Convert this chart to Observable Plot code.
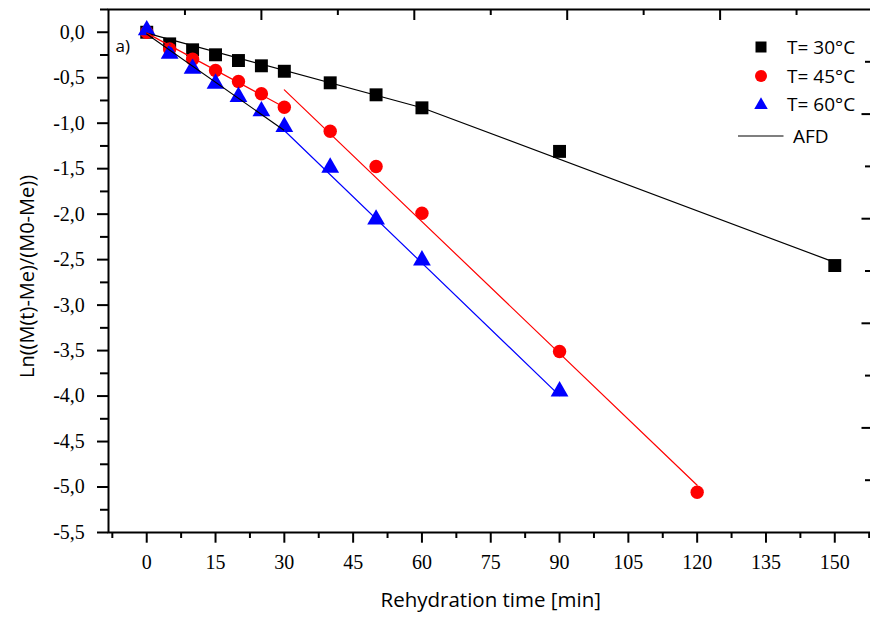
<!DOCTYPE html>
<html><head><meta charset="utf-8">
<script src="https://cdn.jsdelivr.net/npm/d3@7"></script>
<script src="https://cdn.jsdelivr.net/npm/@observablehq/plot@0.6"></script>
<style>
html,body{margin:0;padding:0;background:#fff;overflow:hidden;}
#wrap{position:relative;width:870px;height:619px;overflow:hidden;}
#wrap svg{max-width:none;}
#legend{position:absolute;left:0;top:0;pointer-events:none;}
</style></head><body><div id="wrap"></div>
<script>
// ---- data ----
const times30 = [0, 5, 10, 15, 20, 25, 30, 40, 50, 60, 90, 150];
const ln30    = [0, -0.128, -0.193, -0.248, -0.311, -0.369, -0.429, -0.556, -0.688, -0.831, -1.31, -2.565];
const times45 = [0, 5, 10, 15, 20, 25, 30, 40, 50, 60, 90, 120];
const ln45    = [0, -0.183, -0.297, -0.421, -0.542, -0.677, -0.825, -1.088, -1.476, -1.99, -3.51, -5.057];
const times60 = [0, 5, 10, 15, 20, 25, 30, 40, 50, 60, 90];
const ln60    = [0, -0.256, -0.421, -0.586, -0.732, -0.89, -1.062, -1.51, -2.08, -2.53, -3.97];

// AFD fit segments
const fit30x  = [0, 60, 150];   const fit30y  = [-0.01, -0.83, -2.53];
const fit45ax = [0, 30];        const fit45ay = [-0.01, -0.825];
const fit45bx = [30, 120];      const fit45by = [-0.633, -4.98];
const fit60ax = [0, 30];        const fit60ay = [-0.02, -1.08];
const fit60bx = [30, 90];       const fit60by = [-1.08, -3.995];

// axes / ticks
const xDomain = [-8.3333, 158.3333];
const yDomain = [-5.5, 0.25];
const xTicks = [0, 15, 30, 45, 60, 75, 90, 105, 120, 135, 150];
const xMinor = [-7.5, 7.5, 22.5, 37.5, 52.5, 67.5, 82.5, 97.5, 112.5, 127.5, 142.5, 157.5];
const yTicks = [0, -0.5, -1, -1.5, -2, -2.5, -3, -3.5, -4, -4.5, -5, -5.5];
const yMinor = [0.25, -0.25, -0.75, -1.25, -1.75, -2.25, -2.75, -3.25, -3.75, -4.25, -4.75, -5.25];
const topMajor = [25, 58.3333, 91.6667, 125];
const topMinor = [8.3333, 41.6667, 75, 108.3333, 141.6667];
const rightMajor = [-0.9, -2.05, -3.2, -4.35];
const rightMinor = [-0.325, -1.475, -2.625, -3.775, -4.925];

const legendLabels = ["T= 30°C", "T= 45°C", "T= 60°C", "AFD"];
const xLabel = "Rehydration time [min]";
const yLabel = "Ln((M(t)-Me)/(M0-Me))";
const panelLabel = "a)";

const pts = (xs, ys) => xs.map((x, i) => ({x, y: ys[i]}));
const s30 = pts(times30, ln30), s45 = pts(times45, ln45), s60 = pts(times60, ln60);
const fmtY = d => (Math.abs(d) < 1e-9 ? 0 : d).toFixed(1).replace(".", ",");
const none = () => "";

const W = 873, H = 619, mL = 108, mR = 0.5, mT = 9, mB = 87;
const innerW = W - mL - mR, innerH = H - mT - mB;
const sans = "Open Sans";
const serif = "Times New Roman, Liberation Serif, DejaVu Serif, serif";

const chart = Plot.plot({
  width: W, height: H,
  marginLeft: mL, marginRight: mR, marginTop: mT, marginBottom: mB,
  style: {background: "#fff", color: "#000", overflow: "visible", maxWidth: "none"},
  x: {domain: xDomain, label: null},
  y: {domain: yDomain, label: null},
  marks: [
    Plot.axisX({ticks: xTicks, tickSize: 10.7, tickFormat: none, strokeWidth: 2, label: null}),
    Plot.axisX({ticks: xMinor, tickSize: 6, tickFormat: none, strokeWidth: 2, label: null}),
    Plot.axisY({ticks: yTicks, tickSize: 11, tickFormat: none, strokeWidth: 2, label: null}),
    Plot.axisY({ticks: yMinor, tickSize: 8, tickFormat: none, strokeWidth: 2, label: null}),
    Plot.text(xTicks, {x: d => d, text: d => String(d), frameAnchor: "bottom", dy: 30, textAnchor: "middle", lineAnchor: "middle", fontFamily: serif, fontSize: 20, fill: "#000"}),
    Plot.text(yTicks, {y: d => d, text: fmtY, frameAnchor: "left", dx: -23.7, textAnchor: "end", lineAnchor: "middle", fontFamily: serif, fontSize: 20, fill: "#000"}),
    Plot.tickX(topMajor, {x: d => d, insetBottom: innerH - 11, strokeWidth: 2}),
    Plot.tickX(topMinor, {x: d => d, insetBottom: innerH - 6, strokeWidth: 2}),
    Plot.tickY(rightMajor, {y: d => d, insetLeft: innerW - 11, strokeWidth: 2}),
    Plot.tickY(rightMinor, {y: d => d, insetLeft: innerW - 7.5, strokeWidth: 2}),
    Plot.frame({strokeWidth: 2}),
    Plot.dot(s30, {x: "x", y: "y", symbol: "square", r: 7.3, fill: "#000", stroke: "none"}),
    Plot.dot(s45, {x: "x", y: "y", symbol: "circle", r: 6.7, fill: "#ff0000", stroke: "none"}),
    Plot.dot(s60, {x: "x", y: "y", symbol: "triangle", r: 6.6, fill: "#0000ff", stroke: "none", dy: -2}),
    Plot.line(pts(fit30x, fit30y), {x: "x", y: "y", stroke: "#000", strokeWidth: 1.2}),
    Plot.line(pts(fit45ax, fit45ay), {x: "x", y: "y", stroke: "#ff0000", strokeWidth: 1.2}),
    Plot.line(pts(fit45bx, fit45by), {x: "x", y: "y", stroke: "#ff0000", strokeWidth: 1.2}),
    Plot.line(pts(fit60ax, fit60ay), {x: "x", y: "y", stroke: "#000", strokeWidth: 1.2}),
    Plot.line(pts(fit60bx, fit60by), {x: "x", y: "y", stroke: "#0000ff", strokeWidth: 1.2}),
    Plot.text([panelLabel], {text: d => d, frameAnchor: "top-left", dx: 7, dy: 37, textAnchor: "start", lineAnchor: "middle", fontFamily: sans, fontSize: 17}),
    Plot.text([xLabel], {text: d => d, frameAnchor: "bottom", dy: 68, textAnchor: "middle", lineAnchor: "middle", fontFamily: sans, fontSize: 20.5}),
    Plot.text([yLabel], {text: d => d, frameAnchor: "left", dx: -81, dy: 5.5, rotate: -90, textAnchor: "middle", lineAnchor: "middle", fontFamily: sans, fontSize: 20})
  ]
});

const wrap = document.getElementById("wrap");
wrap.appendChild(chart);

// legend overlay
const leg = d3.select(wrap).append("svg").attr("id", "legend").attr("width", 870).attr("height", 619);
const legY = [47, 76, 104, 136];
const legSym = [
  {type: d3.symbolSquare, size: 11 * 11, color: "#000"},
  {type: d3.symbolCircle, size: Math.PI * 6 * 6, color: "#ff0000"},
  {type: d3.symbolTriangle, size: 13.5 * 13.5 * Math.sqrt(3) / 4, color: "#0000ff"}
];
legSym.forEach((s, i) => {
  leg.append("path").attr("d", d3.symbol(s.type, s.size)())
    .attr("transform", `translate(761,${legY[i] + (i === 2 ? 1 : 0)})`).attr("fill", s.color);
});
leg.append("line").attr("x1", 738).attr("x2", 783.5).attr("y1", legY[3]).attr("y2", legY[3]).attr("stroke", "#000").attr("stroke-width", 1.2);
legendLabels.forEach((t, i) => {
  leg.append("text").attr("x", i === 3 ? 793 : 787).attr("y", legY[i]).attr("dy", "0.35em")
    .attr("font-family", sans).attr("font-size", 19).attr("fill", "#000").text(t);
});
</script></body></html>
